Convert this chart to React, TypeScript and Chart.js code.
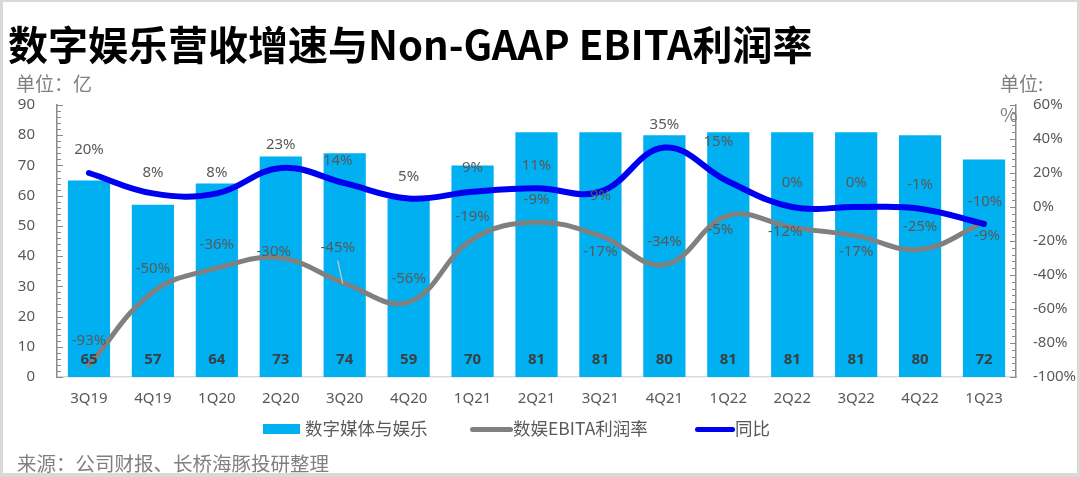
import React, { useEffect, useRef } from 'react';
import { Chart, registerables } from 'chart.js';

Chart.register(...registerables);

// ---------------- data ----------------
const categories = ['3Q19', '4Q19', '1Q20', '2Q20', '3Q20', '4Q20', '1Q21', '2Q21', '3Q21', '4Q21', '1Q22', '2Q22', '3Q22', '4Q22', '1Q23'];
const revenue = [65, 57, 64, 73, 74, 59, 70, 81, 81, 80, 81, 81, 81, 80, 72];
const ebitaMargin = [-93, -50, -36, -30, -45, -56, -19, -9, -17, -34, -5, -12, -17, -25, -9];
const yoyGrowth = [20, 8, 8, 23, 14, 5, 9, 11, 9, 35, 15, 0, 0, -1, -10];

const seriesNames = ['数字媒体与娱乐', '数娱EBITA利润率', '同比'];
const titleText = '数字娱乐营收增速与Non-GAAP EBITA利润率';
const leftUnit = '单位：亿';
const rightUnit = '单位:';
const rightUnit2 = '%';
const sourceText = '来源：公司财报、长桥海豚投研整理';

const leftAxis = { min: 0, max: 90, step: 10, minor: 2 };
const rightAxis = { min: -100, max: 60, step: 20, minor: 4 };

// label placement (pixel offsets from the point)
const yoyLabelDx = [0, 0, 0, 0, -7, 0, 0, 0, 0, 0, -10, 0, 0, 0, 1];
const yoyLabelDy = [-23, -21, -21, -23, -22, -22, -24, -23, 4, -23, -40, -24, -24, -24, -22];
const marginLabelDx = [0, 0, 0, -7, -7, 0, 0, 0, 0, 0, -8, -7, 0, 0, 3];
const marginLabelDy = [-24, -23, -23, -6, -36, -23, -23, -23, 16, -23, 14, 4, 16, -23, 13];
const marginLeader = [false, false, false, false, true, false, false, false, false, false, false, false, false, false, false];

const BAR_COLOR = '#00B0F0';
const GRAY = '#808080';
const BLUE = '#0000F0';
const AXIS_COLOR = '#8a8a8a';
const LABEL_COLOR = '#595959';
const NUM_FONT = '"Noto Sans", "Noto Sans CJK SC", sans-serif';
const CJK_FONT = '"Noto Sans CJK SC", "Noto Sans", sans-serif';

const pct = (v: number) => `${v}%`;

const labelPlugin = {
  id: 'valueLabels',
  afterDatasetsDraw(chart: any) {
    const ctx = chart.ctx;
    const yScale = chart.scales.y;
    ctx.save();
    ctx.textAlign = 'center';
    ctx.textBaseline = 'middle';

    // bar values near the bottom
    const barMeta = chart.getDatasetMeta(0);
    const base = yScale.getPixelForValue(0);
    ctx.font = `bold 15px ${NUM_FONT}`;
    ctx.fillStyle = '#3a3f44';
    barMeta.data.forEach((el: any, i: number) => {
      ctx.fillText(String(revenue[i]), el.x, base - 17);
    });

    ctx.font = `15px ${NUM_FONT}`;
    ctx.fillStyle = LABEL_COLOR;
    // margin labels
    const mMeta = chart.getDatasetMeta(1);
    mMeta.data.forEach((el: any, i: number) => {
      const lx = el.x + marginLabelDx[i];
      const ly = el.y + marginLabelDy[i];
      if (marginLeader[i]) {
        ctx.save();
        ctx.strokeStyle = '#c8c8c8';
        ctx.lineWidth = 1.2;
        ctx.beginPath();
        ctx.moveTo(lx, ly + 13);
        ctx.lineTo(el.x - 2, el.y);
        ctx.stroke();
        ctx.restore();
      }
      ctx.fillText(pct(ebitaMargin[i]), lx, ly);
    });
    // yoy labels
    const gMeta = chart.getDatasetMeta(2);
    gMeta.data.forEach((el: any, i: number) => {
      ctx.fillText(pct(yoyGrowth[i]), el.x + yoyLabelDx[i], el.y + yoyLabelDy[i]);
    });
    ctx.restore();
  },
};

const minorTickPlugin = {
  id: 'minorTicks',
  afterDraw(chart: any) {
    const ctx = chart.ctx;
    const y = chart.scales.y;
    const y1 = chart.scales.y1;
    ctx.save();
    ctx.strokeStyle = AXIS_COLOR;
    ctx.lineWidth = 1;
    for (let v = leftAxis.min; v <= leftAxis.max + 1e-6; v += leftAxis.minor) {
      const py = Math.round(y.getPixelForValue(v)) + 0.5;
      const len = Math.abs(v % leftAxis.step) < 1e-6 ? 6 : 4;
      ctx.beginPath();
      ctx.moveTo(y.right, py);
      ctx.lineTo(y.right + len, py);
      ctx.stroke();
    }
    for (let v = rightAxis.min; v <= rightAxis.max + 1e-6; v += rightAxis.minor) {
      const py = Math.round(y1.getPixelForValue(v)) + 0.5;
      const len = Math.abs(v % rightAxis.step) < 1e-6 ? 6 : 4;
      ctx.beginPath();
      ctx.moveTo(y1.left, py);
      ctx.lineTo(y1.left - len, py);
      ctx.stroke();
    }
    ctx.restore();
  },
};

function ChartCanvas() {
  const ref = useRef<HTMLCanvasElement | null>(null);
  useEffect(() => {
    if (!ref.current) return;
    const chart = new Chart(ref.current, {
      type: 'bar',
      data: {
        labels: categories,
        datasets: [
          {
            type: 'bar',
            label: seriesNames[0],
            data: revenue,
            backgroundColor: BAR_COLOR,
            yAxisID: 'y',
            categoryPercentage: 1,
            barPercentage: 0.66,
            order: 3,
          },
          {
            type: 'line',
            label: seriesNames[1],
            data: ebitaMargin,
            borderColor: GRAY,
            borderWidth: 5,
            tension: 0.4,
            pointRadius: 0,
            borderCapStyle: 'round',
            borderJoinStyle: 'round',
            yAxisID: 'y1',
            order: 2,
          },
          {
            type: 'line',
            label: seriesNames[2],
            data: yoyGrowth,
            borderColor: BLUE,
            borderWidth: 6,
            tension: 0.4,
            pointRadius: 0,
            borderCapStyle: 'round',
            borderJoinStyle: 'round',
            yAxisID: 'y1',
            order: 1,
          },
        ] as any,
      },
      options: {
        animation: false,
        responsive: true,
        maintainAspectRatio: false,
        layout: { padding: { top: 105, left: 0, right: 0, bottom: 0 } },
        plugins: { legend: { display: false }, tooltip: { enabled: false }, title: { display: false } },
        scales: {
          x: {
            grid: { display: false, drawTicks: false },
            border: { display: true, color: '#d9d9d9', width: 1.5 },
            ticks: { color: LABEL_COLOR, font: { family: NUM_FONT, size: 15 }, padding: 13, maxRotation: 0, autoSkip: false },
            afterFit: (s: any) => { s.height = 100; },
          },
          y: {
            position: 'left',
            min: leftAxis.min,
            max: leftAxis.max,
            grid: { display: false, drawTicks: false },
            border: { display: true, color: AXIS_COLOR, width: 1.5 },
            ticks: { stepSize: leftAxis.step, color: LABEL_COLOR, font: { family: NUM_FONT, size: 15 }, padding: 22 },
            afterFit: (s: any) => { s.width = 57; },
          },
          y1: {
            position: 'right',
            min: rightAxis.min,
            max: rightAxis.max,
            grid: { display: false, drawTicks: false },
            border: { display: true, color: AXIS_COLOR, width: 1.5 },
            ticks: { stepSize: rightAxis.step, color: LABEL_COLOR, font: { family: NUM_FONT, size: 15 }, padding: 17, callback: (v: any) => pct(Number(v)) },
            afterFit: (s: any) => { s.width = 64; },
          },
        },
      } as any,
      plugins: [labelPlugin, minorTickPlugin],
    });
    return () => chart.destroy();
  }, []);
  return <canvas ref={ref} />;
}

const abs = (left: number, top: number, extra: React.CSSProperties = {}): React.CSSProperties => ({
  position: 'absolute',
  left,
  top,
  whiteSpace: 'nowrap',
  ...extra,
});

export default function App() {
  return (
    <div style={{ position: 'fixed', left: 0, top: 0, width: 1080, height: 477, background: '#fff', overflow: 'hidden', fontFamily: CJK_FONT }}>
      <div style={{ position: 'absolute', left: 0, top: 0, width: 1080, height: 477 }}>
        <ChartCanvas />
      </div>
      <div style={abs(8, 23, { fontSize: 40, lineHeight: '40px', fontWeight: 700, color: '#000' })}>{titleText}</div>
      <div style={abs(16, 73, { fontSize: 19, lineHeight: '19px', color: '#7f7f7f' })}>{leftUnit}</div>
      <div style={abs(1000, 73, { fontSize: 19, lineHeight: '19px', color: '#7f7f7f' })}>{rightUnit}</div>
      <div style={abs(1000, 104, { fontSize: 19, lineHeight: '19px', color: '#7f7f7f' })}>{rightUnit2}</div>

      {/* legend */}
      <div style={abs(263, 424, { width: 37, height: 10, background: BAR_COLOR })} />
      <div style={abs(305, 419, { fontSize: 17.5, lineHeight: '17.5px', color: LABEL_COLOR })}>{seriesNames[0]}</div>
      <div style={abs(470, 427, { width: 43, height: 5, borderRadius: 3, background: GRAY })} />
      <div style={abs(513, 419, { fontSize: 17.5, lineHeight: '17.5px', color: LABEL_COLOR })}>{seriesNames[1]}</div>
      <div style={abs(695, 427, { width: 40, height: 5, borderRadius: 3, background: BLUE })} />
      <div style={abs(735, 419, { fontSize: 17.5, lineHeight: '17.5px', color: LABEL_COLOR })}>{seriesNames[2]}</div>

      <div style={abs(17, 453, { fontSize: 19.5, lineHeight: '19.5px', color: '#7f7f7f' })}>{sourceText}</div>

      <div style={{ position: 'absolute', inset: 0, boxSizing: 'border-box', borderStyle: 'solid', borderColor: '#d9d9d9', borderWidth: '2px 3px 4px 3px', pointerEvents: 'none' }} />
    </div>
  );
}
